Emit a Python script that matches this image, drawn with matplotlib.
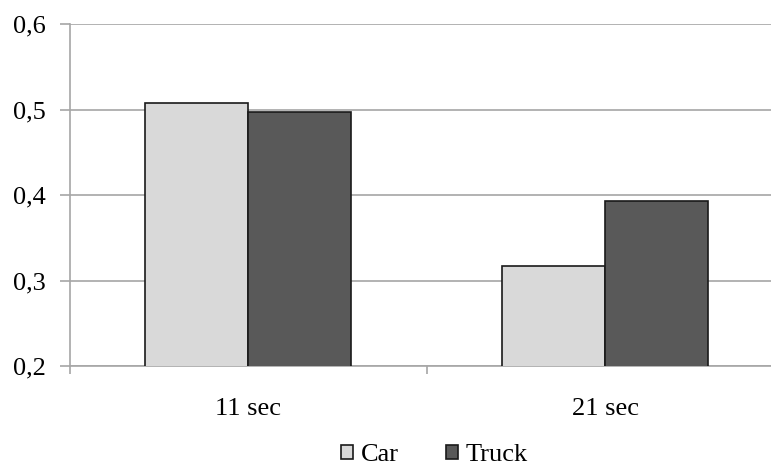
import matplotlib.pyplot as plt
import numpy as np

categories = ['11 sec', '21 sec']
car = [0.508, 0.317]
truck = [0.497, 0.393]
yticks = [0.2, 0.3, 0.4, 0.5, 0.6]
ytick_labels = ['0,2', '0,3', '0,4', '0,5', '0,6']

plt.rcParams['font.family'] = ['Liberation Serif', 'DejaVu Serif']
FS = 19

fig = plt.figure(figsize=(7.71, 4.68), dpi=100)
W, H = 771, 468
ax = fig.add_axes([69.5 / W, 102 / H, (W - 69.5) / W, 342 / H])

x = np.arange(len(categories))
w = 0.288
ax.bar(x - w / 2, car, w, color='#d9d9d9', edgecolor='#1a1a1a', linewidth=1.2,
       label='Car', zorder=3)
ax.bar(x + w / 2, truck, w, color='#595959', edgecolor='#1a1a1a', linewidth=1.2,
       label='Truck', zorder=3)

ax.set_yticks(yticks)
ax.set_yticklabels(ytick_labels)
ax.yaxis.grid(True, color='#a6a6a6', linewidth=1.2, zorder=0)

# category boundaries as major ticks, names as minor tick labels
ax.set_xticks([-0.5, 0.5, 1.5])
ax.set_xticklabels([])
ax.set_xticks(x, minor=True)
ax.set_xticklabels(categories, minor=True)
ax.set_ylim(0.2, 0.6)
ax.set_xlim(-0.5, (W - 247.5) / 357.5)

ax.tick_params(axis='x', which='major', length=6, color='#a6a6a6', width=1.2)
ax.tick_params(axis='x', which='minor', length=0, pad=23, labelsize=FS)
ax.tick_params(axis='y', length=7, color='#a6a6a6', width=1.2, pad=10,
               labelsize=FS)

for s in ['top', 'right']:
    ax.spines[s].set_visible(False)
for s in ['left', 'bottom']:
    ax.spines[s].set_color('#a6a6a6')
    ax.spines[s].set_linewidth(1.2)

fig.legend(loc='center', bbox_to_anchor=(434.5 / W, 1 - 455 / H), ncol=2,
           frameon=False, fontsize=FS, handlelength=0.45, handleheight=0.45,
           handletextpad=0.3, columnspacing=1.8, borderpad=0)

fig.savefig('out.png', dpi=100)
